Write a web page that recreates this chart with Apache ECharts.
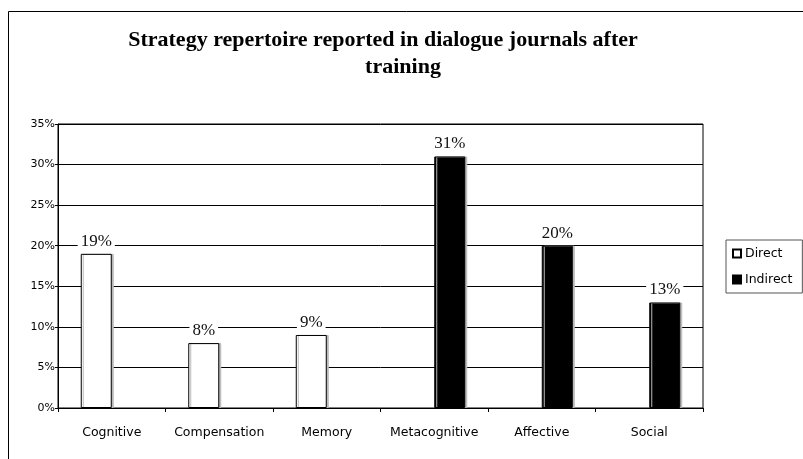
<!DOCTYPE html>
<html>
<head>
<meta charset="utf-8">
<script src="https://cdn.jsdelivr.net/npm/echarts@6/dist/echarts.min.js"></script>
<style>
  html, body { margin: 0; padding: 0; background: #fff; }
  #chart { width: 803px; height: 459px; }
</style>
</head>
<body>
<div id="chart"></div>
<script>
const categories = ['Cognitive', 'Compensation', 'Memory', 'Metacognitive', 'Affective', 'Social']
const directValues = [19, 8, 9, '-', '-', '-']
const indirectValues = ['-', '-', '-', 31, 20, 13]
const yMax = 35
const yStep = 5
const titleLines = ['Strategy repertoire reported in dialogue journals after', 'training']

const chart = echarts.init(document.getElementById('chart'))

const sans = '"DejaVu Sans", Arial, sans-serif'
const serif = '"Liberation Serif", "Times New Roman", serif'

const labelStyle = {
  show: true,
  position: 'top',
  distance: 4,
  formatter: '{c}%',
  fontFamily: serif,
  fontSize: 17,
  color: '#111',
  backgroundColor: '#fff',
  padding: [0, 3],
}

const titleText = {
  fontFamily: serif,
  fontWeight: 'bold',
  fontSize: 22,
  color: '#000',
}

chart.setOption({
  animation: false,
  title: [
    { text: titleLines[0], left: 383, top: 29, textAlign: 'center', textStyle: titleText, padding: 0 },
    { text: titleLines[1], left: 403, top: 56, textAlign: 'center', textStyle: titleText, padding: 0 },
  ],
  graphic: [
    {
      type: 'rect',
      shape: { x: 8.5, y: 11.5, width: 900, height: 600 },
      style: { fill: 'none', stroke: '#000', lineWidth: 1 },
      silent: true,
      z: -1,
    },
  ],
  legend: {
    orient: 'vertical',
    left: 726,
    top: 240,
    padding: [7, 10, 7, 6],
    borderColor: '#555',
    borderWidth: 1,
    itemWidth: 8,
    itemHeight: 8,
    itemGap: 13,
    icon: 'rect',
    textStyle: { fontFamily: sans, fontSize: 12.5, color: '#000', padding: [0, 0, 0, -1] },
    data: ['Direct', 'Indirect'],
  },
  grid: { left: 58, right: 100, top: 124, bottom: 51, containLabel: false, show: true, borderColor: '#000', borderWidth: 1 },
  xAxis: {
    type: 'category',
    data: categories,
    axisLine: { lineStyle: { color: '#000', width: 1 } },
    axisTick: { show: true, length: 4, lineStyle: { color: '#000' } },
    axisLabel: { interval: 0, margin: 18, fontFamily: sans, fontSize: 12.5, color: '#000' },
  },
  yAxis: {
    type: 'value',
    min: 0,
    max: yMax,
    interval: yStep,
    axisLine: { show: true, lineStyle: { color: '#000', width: 1 } },
    axisTick: { show: true, length: 3, lineStyle: { color: '#000' } },
    splitLine: { show: true, lineStyle: { color: '#000', width: 1 } },
    axisLabel: { formatter: '{value}%', margin: 3, fontFamily: sans, fontSize: 11, color: '#000' },
  },
  series: [
    {
      name: 'Direct',
      type: 'bar',
      data: directValues,
      barWidth: 31,
      barGap: '0%',
      itemStyle: { color: '#fff', borderColor: '#000', borderWidth: 1, shadowColor: '#bbb', shadowOffsetX: 2, shadowBlur: 0 },
      label: labelStyle,
    },
    {
      name: 'Indirect',
      type: 'bar',
      data: indirectValues,
      barWidth: 31,
      barGap: '0%',
      itemStyle: { color: '#000', borderColor: '#000', borderWidth: 1, shadowColor: '#bbb', shadowOffsetX: 2, shadowBlur: 0 },
      label: labelStyle,
    },
  ],
})
</script>
</body>
</html>
